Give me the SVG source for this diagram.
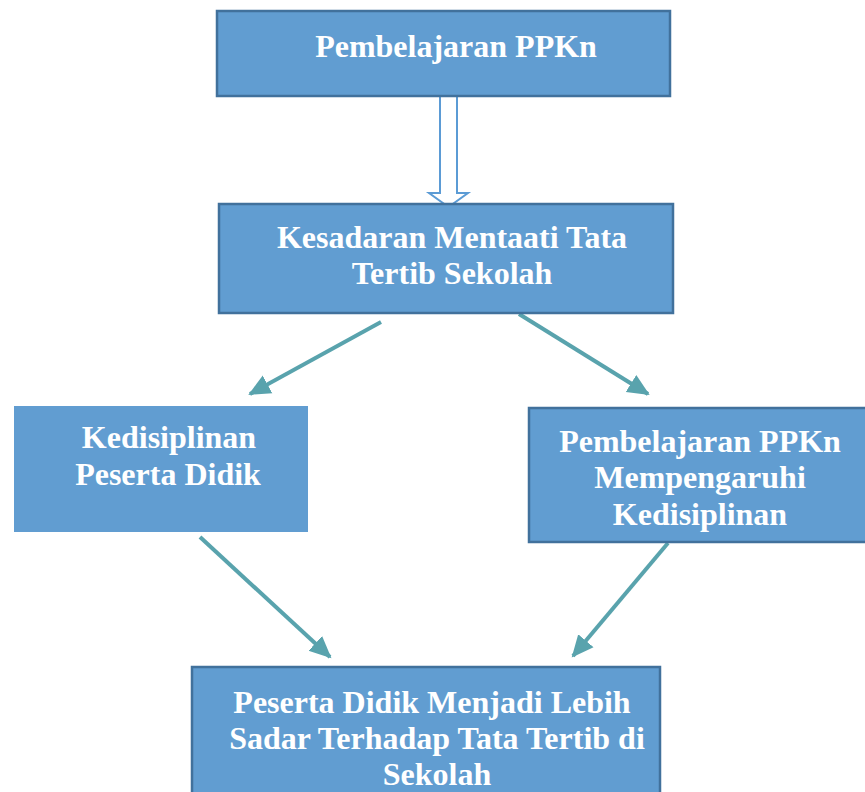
<svg xmlns="http://www.w3.org/2000/svg" width="865" height="792" viewBox="0 0 865 792">
<style>
.box{fill:#619dd1;stroke:#41719c;stroke-width:2.5}
.nob{fill:#619dd1}
.t{font-family:"Liberation Serif","Times New Roman",serif;font-weight:bold;font-size:32px;fill:#ffffff;text-anchor:middle}
.c{stroke:#59a3ad;stroke-width:4;fill:none;marker-end:url(#ah)}
</style>
<defs>
<marker id="ah" markerUnits="userSpaceOnUse" markerWidth="24" markerHeight="24" viewBox="0 0 24 24" refX="20" refY="12" orient="auto">
<path d="M0,2 L22,12 L0,22 Z" fill="#59a3ad"/>
</marker>
</defs>
<g id="connectors">
<path d="M440,96 L440,193 L429,193 L448.5,207 L468,193 L457,193 L457,96" fill="#ffffff" stroke="#5b9bd5" stroke-width="2"/>
<line class="c" x1="381" y1="322" x2="250" y2="394"/>
<line class="c" x1="519" y1="314" x2="648" y2="394"/>
<line class="c" x1="200" y1="537" x2="330" y2="657"/>
<line class="c" x1="668" y1="543" x2="573" y2="656"/>
</g>
<g id="n1">
<rect class="box" x="217" y="11" width="453" height="85"/>
<text class="t" x="456" y="57">Pembelajaran PPKn</text>
</g>
<g id="n2">
<rect class="box" x="219" y="204" width="454" height="109"/>
<text class="t" x="452" y="248">Kesadaran Mentaati Tata</text>
<text class="t" x="452" y="284">Tertib Sekolah</text>
</g>
<g id="n3">
<rect class="nob" x="14" y="406" width="294" height="126"/>
<text class="t" x="169" y="448">Kedisiplinan</text>
<text class="t" x="168" y="485">Peserta Didik</text>
</g>
<g id="n4">
<rect class="box" x="529" y="408" width="340" height="134"/>
<text class="t" x="700" y="452">Pembelajaran PPKn</text>
<text class="t" x="700" y="488">Mempengaruhi</text>
<text class="t" x="700" y="525">Kedisiplinan</text>
</g>
<g id="n5">
<rect class="box" x="192" y="667" width="468" height="140"/>
<text class="t" x="432" y="713">Peserta Didik Menjadi Lebih</text>
<text class="t" x="437" y="749">Sadar Terhadap Tata Tertib di</text>
<text class="t" x="437" y="785">Sekolah</text>
</g>
</svg>
